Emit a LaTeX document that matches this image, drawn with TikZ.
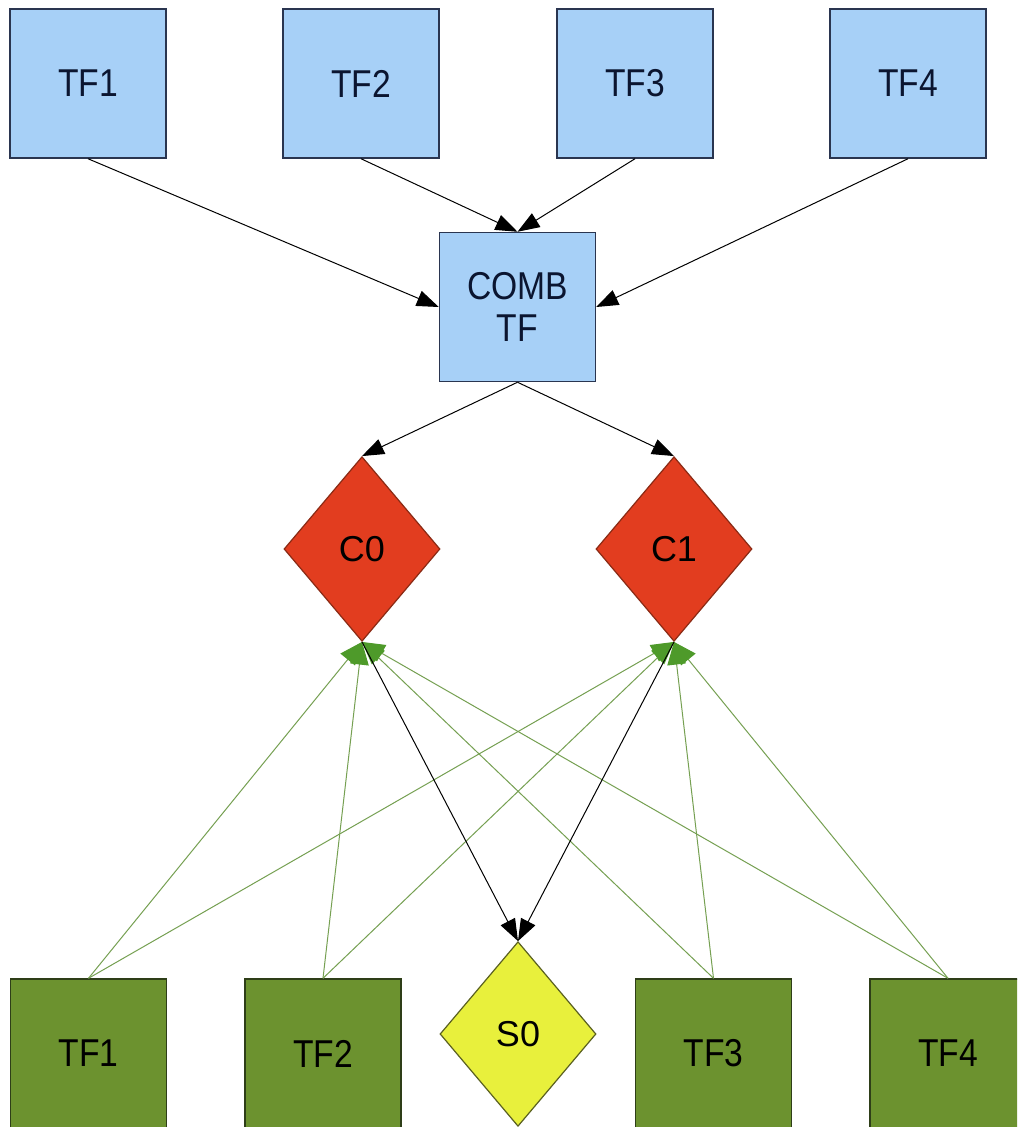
\documentclass[tikz,border=0pt]{standalone}
\usepackage{graphicx}
\usepackage{fontspec}
\setmainfont{Liberation Sans}
\usetikzlibrary{arrows.meta,shapes.geometric}
\definecolor{tfblue}{HTML}{A7D0F7}
\definecolor{navyb}{HTML}{2A3550}
\definecolor{navyt}{HTML}{0B1530}
\definecolor{cred}{HTML}{E23D1F}
\definecolor{credb}{HTML}{8A2A14}
\definecolor{tfgreen}{HTML}{6C922F}
\definecolor{tfgreenb}{HTML}{2E3E18}
\definecolor{syellow}{HTML}{E8F03C}
\definecolor{syellowb}{HTML}{5A6020}
\definecolor{glines}{HTML}{76A052}
\definecolor{garrow}{HTML}{4E9A2A}
\newcommand{\vtxt}[1]{\scalebox{0.97}[1.12]{#1}}
\begin{document}
\begin{tikzpicture}[x=0.75pt,y=-0.75pt,
  basebox/.style={rectangle, line width=1.1pt, minimum width=117pt, minimum height=111.75pt, inner sep=0pt, align=center, font=\fontsize{26}{31}\selectfont},
  bluebox/.style={basebox, draw=navyb, fill=tfblue, text=navyt},
  greenbox/.style={basebox, draw=tfgreenb, fill=tfgreen, text=black},
  basedia/.style={diamond, line width=0.9pt, minimum width=117pt, minimum height=138.5pt, inner sep=0pt, font=\fontsize{27}{31}\selectfont, text=black},
  reddia/.style={basedia, draw=credb, fill=cred},
  yellowdia/.style={basedia, draw=syellowb, fill=syellow},
  blk/.style={draw=black, line width=0.75pt, -{Triangle[length=16.5pt,width=12pt]}},
  grn/.style={draw=glines, line width=0.75pt, -{Triangle[length=17pt,width=14pt,color=garrow]}}
]
\useasboundingbox (0,0) rectangle (1017,1127);
\clip (0,0) rectangle (1017,1127);
\fill[white] (0,0) rectangle (1017,1127);

% top row
\node[bluebox] (t1) at (88,83.5) {\vtxt{TF1}};
\node[bluebox] (t2) at (361,83.5) {\vtxt{TF2}};
\node[bluebox] (t3) at (635,83.5) {\vtxt{TF3}};
\node[bluebox] (t4) at (908,83.5) {\vtxt{TF4}};

\node[bluebox] (comb) at (517.5,307) {\vtxt{COMB}\\\vtxt{TF}};

\node[reddia] (c0) at (362,549) {C0};
\node[reddia] (c1) at (674,549) {C1};

% bottom row
\node[greenbox] (b1) at (88.5,1053.5) {\vtxt{TF1}};
\node[greenbox] (b2) at (323,1053.5) {\vtxt{TF2}};
\node[yellowdia] (s0) at (518,1034) {S0};
\node[greenbox] (b3) at (713.5,1053.5) {\vtxt{TF3}};
\node[greenbox] (b4) at (948,1053.5) {\vtxt{TF4}};

% connectors
\draw[blk] (t1.south) -- (comb.west);
\draw[blk] (t2.south) -- (comb.north);
\draw[blk] (t3.south) -- (comb.north);
\draw[blk] (t4.south) -- (comb.east);

\draw[blk] (comb.south) -- (c0.north);
\draw[blk] (comb.south) -- (c1.north);

\foreach \b in {b1,b2,b3,b4}{
  \draw[grn] (\b.north) -- (c0.south);
  \draw[grn] (\b.north) -- (c1.south);
}

\draw[blk] (c0.south) -- (s0.north);
\draw[blk] (c1.south) -- (s0.north);
\end{tikzpicture}
\end{document}
